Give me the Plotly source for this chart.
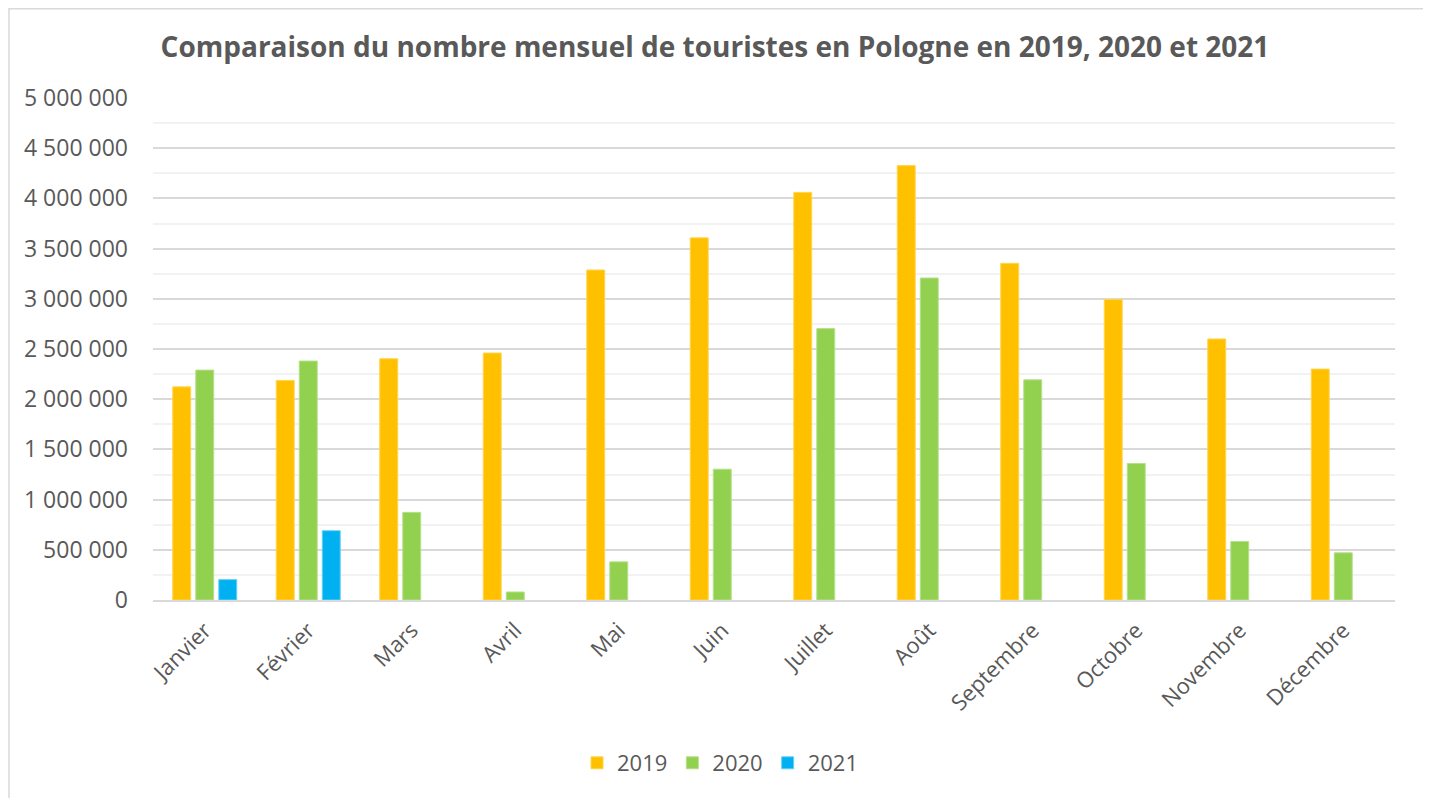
import plotly.graph_objects as go

months = ["Janvier", "Février", "Mars", "Avril", "Mai", "Juin", "Juillet",
          "Août", "Septembre", "Octobre", "Novembre", "Décembre"]
v2019 = [2123000, 2187000, 2403000, 2460000, 3287000, 3607000, 4060000,
         4327000, 3353000, 2993000, 2600000, 2300000]
v2020 = [2290000, 2380000, 873000, 80000, 380000, 1303000, 2703000,
         3207000, 2193000, 1360000, 583000, 470000]
v2021 = [203000, 690000, None, None, None, None, None,
         None, None, None, None, None]

series = [("2019", v2019, "#FFC000", "#FFD54F"),
          ("2020", v2020, "#92D050", "#B5E08A"),
          ("2021", v2021, "#00B0F0", "#66D0F6")]

TXT = "#595959"
FONT = "Open Sans, Segoe UI, sans-serif"

fig = go.Figure()
for name, vals, col, lc in series:
    fig.add_trace(go.Bar(x=months, y=vals, name=name,
                         marker=dict(color=col, line=dict(color=lc, width=1))))

# page has an 8px body margin: figure origin is at page (8, 8)
OFF = 8
W, H = 1431 - OFF, 798 - OFF
L, R, T, B = 153 - OFF, 36, 98 - OFF, 198
pw, ph = W - L - R, H - T - B

def px_x(x):  # page x -> paper
    return (x - OFF - L) / pw

def px_y(y):  # page y -> paper
    return (H - B - (y - OFF)) / ph

fig.update_layout(
    width=W, height=H,
    margin=dict(l=L, r=R, t=T, b=B),
    paper_bgcolor="white", plot_bgcolor="white",
    separators=", ",
    barmode="group", bargap=0.333, bargroupgap=0.22,
    font=dict(family=FONT, color=TXT, size=22),
    title=dict(text="<b>Comparaison du nombre mensuel de touristes en Pologne en 2019, 2020 et 2021</b>",
               x=px_x(715), xanchor="center", xref="paper",
               y=1 - (47 - OFF) / H, yanchor="middle",
               font=dict(family=FONT, size=28, color=TXT)),
    xaxis=dict(tickangle=-45, showgrid=False, showline=True,
               linecolor="#D9D9D9", linewidth=1.5, ticks="",
               ticklabelstandoff=7,
               tickfont=dict(size=22, color=TXT)),
    yaxis=dict(range=[0, 5000000], dtick=500000, tickformat=",d",
               showgrid=True, gridcolor="#D9D9D9", gridwidth=1.5,
               zeroline=False, ticks="", ticklabelstandoff=24,
               tickfont=dict(size=23, color=TXT),
               minor=dict(dtick=250000, showgrid=True, gridcolor="#F2F2F2", gridwidth=1.5)),
    legend=dict(orientation="h", x=px_x(720), xanchor="center",
                y=px_y(763), yanchor="middle", itemwidth=30,
                font=dict(size=22, color=TXT), traceorder="normal"),
    shapes=[dict(type="rect", xref="paper", yref="paper",
                 x0=px_x(9), x1=px_x(1426), y0=px_y(800), y1=px_y(8.7),
                 line=dict(color="#D9D9D9", width=1.5), layer="below")],
)

fig.write_html("out.html")
